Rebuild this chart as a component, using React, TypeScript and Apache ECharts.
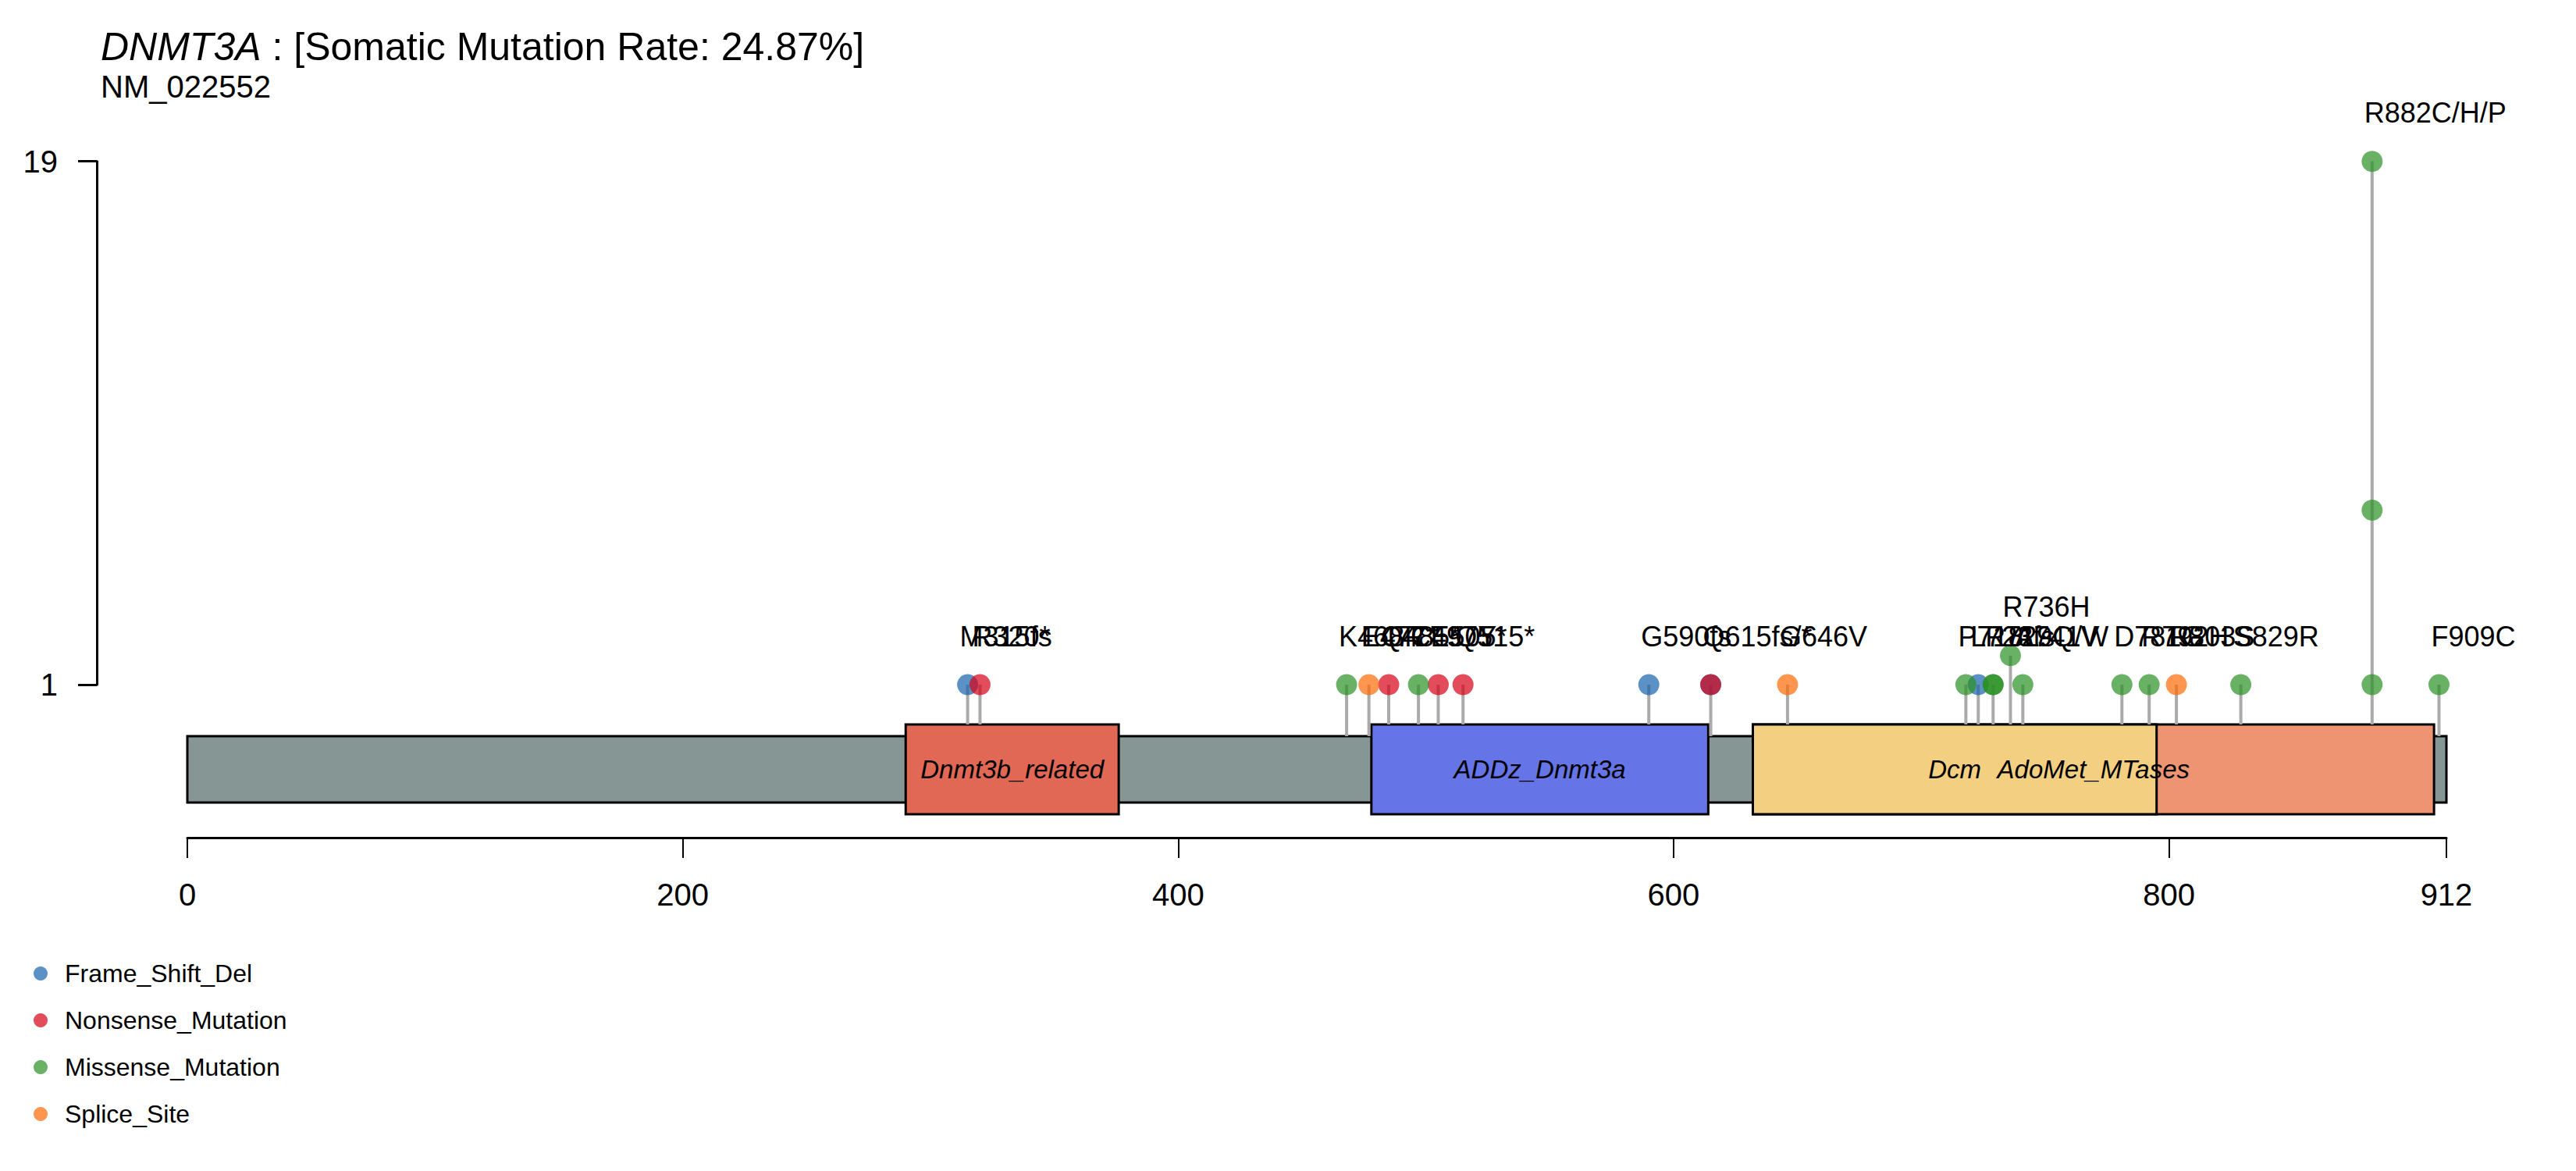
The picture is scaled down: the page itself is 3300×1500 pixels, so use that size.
import React, { useEffect, useRef } from "react";
import * as echarts from "echarts";

const geneName = "DNMT3A";
const titleRest = " : [Somatic Mutation Rate: 24.87%]";
const transcript = "NM_022552";
const proteinLength = 912;

const xTicks = [0, 200, 400, 600, 800, 912];
const yTicks = [1, 19];

const domainNames = ["Dnmt3b_related", "ADDz_Dnmt3a", "AdoMet_MTases", "Dcm"];
const domainStart = [290, 478, 632, 632];
const domainEnd = [376, 614, 907, 795];
const domainColors = ["#E06855", "#6574E6", "#EE9472", "#F3CF82"];

const classes = ["Frame_Shift_Del", "Nonsense_Mutation", "Missense_Mutation", "Splice_Site"];
const classColors = ["rgba(21,98,171,0.7)", "rgba(215,0,22,0.7)", "rgba(42,144,34,0.7)", "rgba(254,105,5,0.7)"];

// individual mutation points (class index refers to `classes`)
const mutPos = [315, 320, 468, 477, 485, 497, 505, 515, 590, 615, 615, 646, 718, 723, 729, 729, 736, 741, 781, 792, 803, 829, 882, 882, 882, 909];
const mutClass = [0, 1, 2, 3, 1, 2, 1, 1, 0, 0, 1, 3, 2, 0, 2, 2, 2, 2, 2, 2, 3, 2, 2, 2, 2, 2];
const mutCount = [1, 1, 1, 1, 1, 1, 1, 1, 1, 1, 1, 1, 1, 1, 1, 1, 2, 1, 1, 1, 1, 1, 1, 7, 19, 1];

// one label / stem per position
const labelPos = [315, 320, 468, 477, 485, 497, 505, 515, 590, 615, 646, 718, 723, 729, 736, 741, 781, 792, 803, 829, 882, 909];
const labelText = ["M315fs", "R320*", "K468R", "E477*", "Q485*", "C497Y", "E505*", "Q515*", "G590fs", "Q615fs/*", "G646V", "P718L", "L723fs", "R729Q/W", "R736H", "A741V", "D781G", "R792H", "R803S", "S829R", "R882C/H/P", "F909C"];
const labelCount = [1, 1, 1, 1, 1, 1, 1, 1, 1, 1, 1, 1, 1, 1, 2, 1, 1, 1, 1, 1, 19, 1];

// layout constants (pixels relative to the y=1 level)
const DOMAIN_TOP = 51;
const DOMAIN_BOTTOM = 166;
const BACKBONE_TOP = 66;
const BACKBONE_BOTTOM = 151;
const LABEL_DX = -10;
const LABEL_DY = -62;
const FONT = "'Liberation Sans', Arial, Helvetica, sans-serif";

export default function App() {
  const ref = useRef<HTMLDivElement>(null);
  useEffect(() => {
    if (!ref.current) return;
    const chart = echarts.init(ref.current, undefined, { renderer: "svg" });

    const inDomain = (x: number) => domainStart.some((s, i) => x >= s && x <= domainEnd[i]);

    const pointSeries = classes.map((c, ci) => ({
      name: c,
      type: "scatter",
      z: 5,
      clip: false,
      symbol: "circle",
      symbolSize: 27,
      itemStyle: { color: classColors[ci], opacity: 1 },
      emphasis: { disabled: true },
      silent: true,
      data: mutPos
        .map((p, i) => ({ p, i }))
        .filter((d) => mutClass[d.i] === ci)
        .map((d) => [d.p, mutCount[d.i]]),
    }));

    const option: any = {
      animation: false,
      backgroundColor: "#ffffff",
      textStyle: { fontFamily: FONT, color: "#000" },
      title: {
        left: 124,
        top: 30,
        text: `{i|${geneName}}{n|${titleRest}}`,
        textStyle: {
          rich: {
            i: { fontStyle: "italic", fontSize: 50, fontFamily: FONT, color: "#000", fontWeight: "normal" },
            n: { fontSize: 50, fontFamily: FONT, color: "#000", fontWeight: "normal" },
          },
        },
        subtext: transcript,
        subtextStyle: { fontSize: 40, fontFamily: FONT, color: "#000" },
        itemGap: 6,
      },
      legend: {
        orient: "vertical",
        left: 38,
        top: 1226,
        itemWidth: 52,
        itemHeight: 18,
        itemGap: 28,
        icon: "circle",
        selectedMode: false,
        textStyle: { fontSize: 32, color: "#000", fontFamily: FONT },
        data: classes,
      },
      grid: {
        left: 240,
        right: 3300 - 3134,
        top: 206.7,
        bottom: 1500 - 877,
        containLabel: false,
        outerBoundsMode: "none",
      },
      xAxis: {
        type: "value",
        min: 0,
        max: proteinLength,
        position: "bottom",
        offset: 196,
        axisLine: { show: true, onZero: false, lineStyle: { color: "#000", width: 3 } },
        axisTick: { show: true, length: 26, customValues: xTicks, lineStyle: { color: "#000", width: 2 } },
        axisLabel: { show: true, customValues: xTicks, fontSize: 40, color: "#000", margin: 53, fontFamily: FONT },
        splitLine: { show: false },
      },
      yAxis: {
        type: "value",
        min: 1,
        max: 19,
        position: "left",
        offset: 116,
        axisLine: { show: true, onZero: false, lineStyle: { color: "#000", width: 3 } },
        axisTick: { show: true, length: 24, customValues: yTicks, lineStyle: { color: "#000", width: 3 } },
        axisLabel: { show: true, customValues: yTicks, fontSize: 40, color: "#000", margin: 50, fontFamily: FONT },
        splitLine: { show: false },
      },
      series: [
        {
          name: "backbone",
          type: "custom",
          z: 1,
          clip: false,
          silent: true,
          data: [[0, proteinLength]],
          renderItem: (params: any, api: any) => {
            const p0 = api.coord([api.value(0), 1]);
            const p1 = api.coord([api.value(1), 1]);
            return {
              type: "rect",
              shape: { x: p0[0], y: p0[1] + BACKBONE_TOP, width: p1[0] - p0[0], height: BACKBONE_BOTTOM - BACKBONE_TOP },
              style: { fill: "#859694", stroke: "#000", lineWidth: 3 },
            };
          },
        },
        {
          name: "domains",
          type: "custom",
          z: 2,
          clip: false,
          silent: true,
          data: domainStart.map((s, i) => [s, domainEnd[i], i]),
          renderItem: (params: any, api: any) => {
            const i = api.value(2);
            const p0 = api.coord([api.value(0), 1]);
            const p1 = api.coord([api.value(1), 1]);
            return {
              type: "rect",
              shape: { x: p0[0], y: p0[1] + DOMAIN_TOP, width: p1[0] - p0[0], height: DOMAIN_BOTTOM - DOMAIN_TOP },
              style: { fill: domainColors[i], stroke: "#000", lineWidth: 3 },
            };
          },
        },
        {
          name: "domainLabels",
          type: "custom",
          z: 3,
          clip: false,
          silent: true,
          data: domainStart.map((s, i) => [s, domainEnd[i], i]),
          renderItem: (params: any, api: any) => {
            const i = api.value(2);
            const c = api.coord([(api.value(0) + api.value(1)) / 2, 1]);
            return {
              type: "text",
              x: c[0],
              y: c[1] + (DOMAIN_TOP + DOMAIN_BOTTOM) / 2,
              style: {
                text: domainNames[i],
                fill: "#000",
                fontSize: 33,
                fontStyle: "italic",
                fontFamily: FONT,
                align: "center",
                verticalAlign: "middle",
              },
            };
          },
        },
        {
          name: "stems",
          type: "custom",
          z: 4,
          clip: false,
          silent: true,
          data: labelPos.map((p, i) => [p, labelCount[i]]),
          renderItem: (params: any, api: any) => {
            const x = api.value(0);
            const top = api.coord([x, api.value(1)]);
            const base = api.coord([x, 1]);
            const bottom = base[1] + (inDomain(x) ? DOMAIN_TOP : BACKBONE_TOP);
            return {
              type: "line",
              shape: { x1: top[0], y1: top[1], x2: top[0], y2: bottom },
              style: { stroke: "#AAAAAA", lineWidth: 4 },
            };
          },
        },
        ...pointSeries,
        {
          name: "labels",
          type: "custom",
          z: 6,
          clip: false,
          silent: true,
          data: labelPos.map((p, i) => [p, labelCount[i], i]),
          renderItem: (params: any, api: any) => {
            const i = api.value(2);
            const c = api.coord([api.value(0), api.value(1)]);
            return {
              type: "text",
              x: c[0] + LABEL_DX,
              y: c[1] + LABEL_DY,
              style: {
                text: labelText[i],
                fill: "#000",
                fontSize: 36,
                fontFamily: FONT,
                align: "left",
                verticalAlign: "middle",
              },
            };
          },
        },
      ],
    };

    chart.setOption(option);
    return () => chart.dispose();
  }, []);

  return (
    <div
      ref={ref}
      style={{ position: "fixed", left: 0, top: 0, width: 3300, height: 1500, background: "#fff" }}
    />
  );
}
